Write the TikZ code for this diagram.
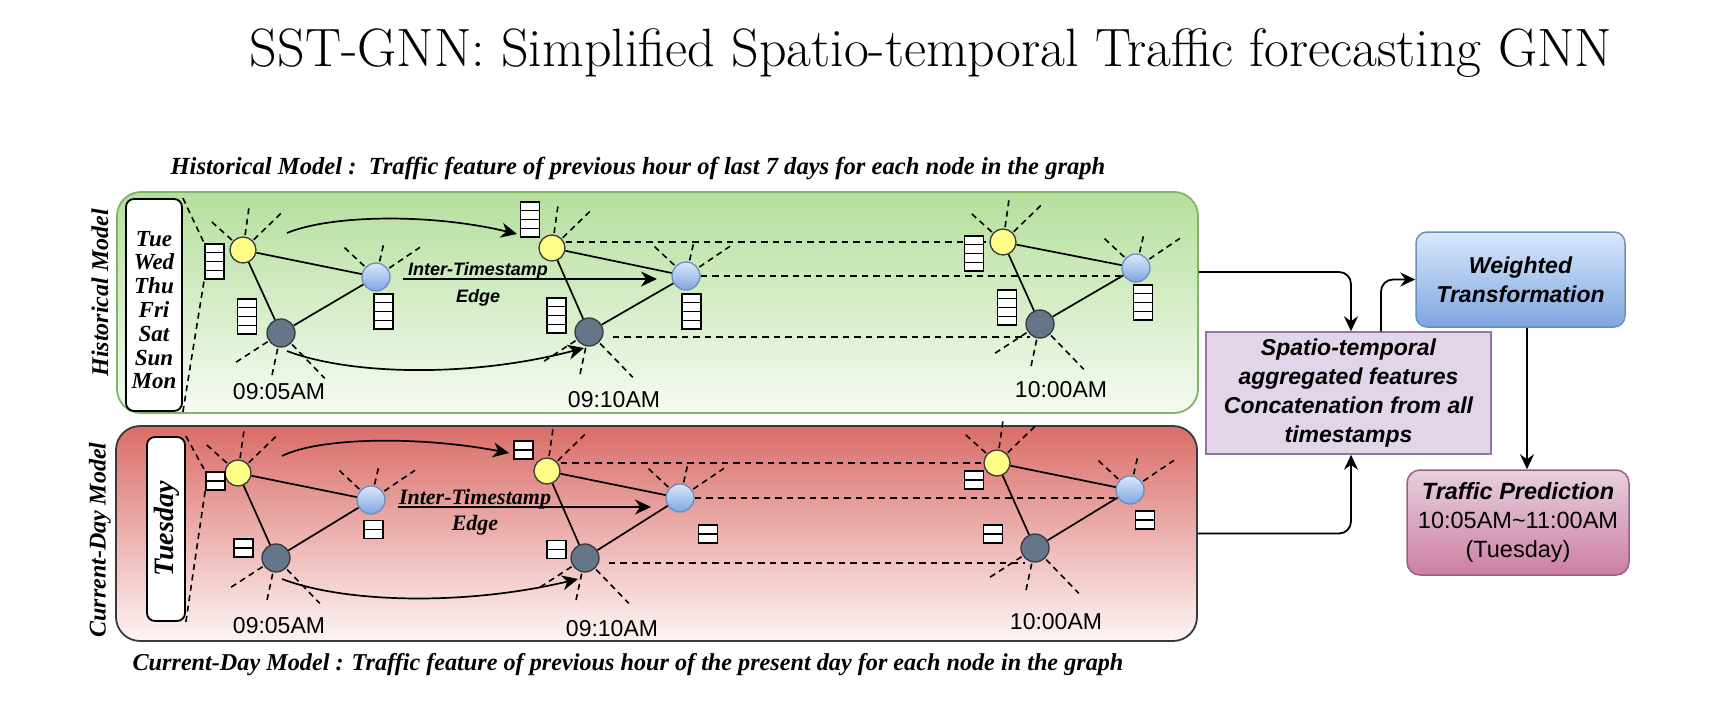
\documentclass[tikz,border=0pt]{standalone}
\usepackage{fontspec}
\newfontfamily\tms{Liberation Serif}
\newfontfamily\arl{Liberation Sans}
\usetikzlibrary{calc,arrows.meta}
\definecolor{grnB}{HTML}{82B366}
\definecolor{grnT}{HTML}{B5DF9C}
\definecolor{grnW}{HTML}{F6FBF3}
\definecolor{redT}{HTML}{DA6D68}
\definecolor{redW}{HTML}{FDF5F5}
\definecolor{dkB}{HTML}{36393D}
\definecolor{ylw}{HTML}{FFFF88}
\definecolor{blT}{HTML}{DAE8FC}
\definecolor{blB}{HTML}{7EA6E0}
\definecolor{blD}{HTML}{6C8EBF}
\definecolor{dkF}{HTML}{647687}
\definecolor{puF}{HTML}{E1D5E7}
\definecolor{puD}{HTML}{9673A6}
\definecolor{pkT}{HTML}{E6D0DE}
\definecolor{pkB}{HTML}{CD7FA2}
\definecolor{pkD}{HTML}{996185}
\tikzset{
 ynode/.style={circle,draw=dkB,line width=1.3pt,fill=ylw,minimum size=26pt,inner sep=0pt},
 bnode/.style={circle,draw=blD,line width=1.3pt,top color=blT,bottom color=blB,minimum size=28pt,inner sep=0pt},
 dnode/.style={circle,draw=dkB,line width=1.3pt,fill=dkF,minimum size=28pt,inner sep=0pt},
 gedge/.style={line width=1.7pt},
 raydash/.style={line width=1.6pt,dash pattern=on 6pt off 4.5pt},
 hdash/.style={line width=1.6pt,dash pattern=on 6.5pt off 5pt},
 arrline/.style={line width=1.7pt,-{Stealth[length=16pt,width=15pt,inset=5pt]}},
 connline/.style={line width=1.8pt,rounded corners=12pt,-{Stealth[length=15pt,width=14pt,inset=5pt]}},
 bufq/.style={draw,fill=white,line width=1.6pt,minimum width=19pt,minimum height=35pt,inner sep=0pt},
 bufd/.style={draw,fill=white,line width=1.6pt,minimum width=19pt,minimum height=18pt,inner sep=0pt},
 timelbl/.style={font=\arl\fontsize{23}{27}\selectfont,inner sep=0pt},
 captxt/.style={font=\tms\bfseries\itshape\fontsize{24.6}{28}\selectfont,inner sep=0pt,anchor=base},
 rottxt/.style={font=\tms\bfseries\itshape\fontsize{24}{28}\selectfont,inner sep=0pt,rotate=90},
 daybox/.style={draw,fill=white,line width=1.8pt,rounded corners=8pt,inner sep=0pt},
 sbitxt/.style={font=\arl\bfseries\itshape\fontsize{23}{29}\selectfont,align=center,inner sep=0pt},
}
\newcommand\bufF[3]{\node[bufq] (#1) at (#2,#3) {};
 \foreach \f in {0.25,0.5,0.75}{\draw[line width=1.6pt] ($(#1.north west)!\f!(#1.south west)$) -- ($(#1.north east)!\f!(#1.south east)$);}}
\newcommand\bufT[3]{\node[bufd] (#1) at (#2,#3) {}; \draw[line width=1.6pt] (#1.west) -- (#1.east);}
\newcommand\raysY[1]{\foreach \a/\rl in {138/42pt,82/43pt,44/54pt}{\draw[raydash] ($(#1)+(\a:15pt)$) -- ($(#1)+(\a:\rl)$);}}
\newcommand\raysYb[1]{\foreach \a/\rl in {82/43pt,44/54pt}{\draw[raydash] ($(#1)+(\a:15pt)$) -- ($(#1)+(\a:\rl)$);}}
\newcommand\raysB[1]{\foreach \a/\rl in {137/43pt,77/33pt,34/53pt}{\draw[raydash] ($(#1)+(\a:16pt)$) -- ($(#1)+(\a:\rl)$);}}
\newcommand\raysD[1]{\foreach \a/\rl in {213/55pt,258/46pt,314/63pt}{\draw[raydash] ($(#1)+(\a:16pt)$) -- ($(#1)+(\a:\rl)$);}}
\begin{document}
\begin{tikzpicture}[x=1pt,y=-1pt]
\useasboundingbox (0,0) rectangle (1710,706);
\fill[white] (0,0) rectangle (1710,706);

% title and captions
\node[font=\fontsize{54}{62}\selectfont,inner sep=0pt,anchor=base] (title) at (931,67) {SST-GNN: Simplified Spatio-temporal Traffic forecasting GNN};
\node[captxt] (caph) at (638,175) {Historical Model :\ \ Traffic feature of previous hour of last 7 days for each node in the graph};
\node[captxt,font=\tms\bfseries\itshape\fontsize{24.2}{28}\selectfont] (capc) at (628,670) {Current-Day Model : Traffic feature of previous hour of the present day for each node in the graph};

% panels
\node[draw=grnB,line width=1.8pt,rounded corners=24pt,top color=grnT,bottom color=grnW,minimum width=1081pt,minimum height=221pt] (hist) at (657.5,302.5) {};
\node[draw=dkB,line width=1.8pt,rounded corners=24pt,top color=redT,bottom color=redW,minimum width=1081pt,minimum height=215pt] (curr) at (656.5,533.5) {};

\node[rottxt] (labh) at (100,293) {Historical Model};
\node[rottxt] (labc) at (100,540) {Current-Day Model};

\node[daybox,minimum width=56pt,minimum height=212pt] (dayh) at (154,305) {};
\node[font=\tms\bfseries\itshape\fontsize{23}{23.8}\selectfont,align=center,inner sep=0pt] (days) at (154,310) {Tue\\Wed\\Thu\\Fri\\Sat\\Sun\\Mon};
\node[daybox,minimum width=38pt,minimum height=184pt] (dayc) at (166,529) {};
\node[font=\tms\bfseries\itshape\fontsize{28}{32}\selectfont,rotate=90,inner sep=0pt] (tues) at (167,529) {Tuesday};

% historical graph nodes
\node[ynode] (Y1) at (243,250) {};
\node[bnode] (B1) at (376,277) {};
\node[dnode] (D1) at (281,333) {};
\node[ynode] (Y2) at (552,248) {};
\node[bnode] (B2) at (686,276) {};
\node[dnode] (D2) at (589,332) {};
\node[ynode] (Y3) at (1003,242) {};
\node[bnode] (B3) at (1136,268) {};
\node[dnode] (D3) at (1040,324) {};
% current-day graph nodes
\node[ynode] (Y1r) at (238,473) {};
\node[bnode] (B1r) at (371,500) {};
\node[dnode] (D1r) at (276,558) {};
\node[ynode] (Y2r) at (547,471) {};
\node[bnode] (B2r) at (680,498) {};
\node[dnode] (D2r) at (585,558) {};
\node[ynode] (Y3r) at (997,463) {};
\node[bnode] (B3r) at (1130,490) {};
\node[dnode] (D3r) at (1035,548) {};

% graph edges
\foreach \g in {1,2,3}{
 \draw[gedge] (Y\g) -- (B\g); \draw[gedge] (Y\g) -- (D\g); \draw[gedge] (D\g) -- (B\g);
 \draw[gedge] (Y\g r) -- (B\g r); \draw[gedge] (Y\g r) -- (D\g r); \draw[gedge] (D\g r) -- (B\g r);
}

% inter-timestamp dashed links
\draw[hdash] (Y2.east |- Y3.west) -- (Y3.west);
\draw[hdash] (B2.east) -- (B2.east -| B3.west);
\draw[hdash] ([xshift=9pt,yshift=-5pt]D2.east) -- ([yshift=-5pt]D2.east -| D3.south west);
\draw[hdash] (Y2r.east |- Y3r.west) -- (Y3r.west);
\draw[hdash] (B2r.east) -- (B2r.east -| B3r.west);
\draw[hdash] ([xshift=9pt,yshift=-5pt]D2r.east) -- ([yshift=-5pt]D2r.east -| D3r.south west);

% rays
\raysY{Y1} \raysB{B1} \raysD{D1}
\raysYb{Y2} \raysB{B2} \raysD{D2}
\raysY{Y3} \raysB{B3} \raysD{D3}
\raysY{Y1r} \raysB{B1r} \raysD{D1r}
\raysYb{Y2r} \raysB{B2r} \raysD{D2r}
\raysY{Y3r} \raysB{B3r} \raysD{D3r}

% curved arrows
\coordinate (a1s) at (287,233); \coordinate (a1e) at (517,234);
\coordinate (a2s) at (287,351); \coordinate (a2e) at (584,348);
\coordinate (a3s) at (282,456); \coordinate (a3e) at (509,453);
\coordinate (a4s) at (282,579); \coordinate (a4e) at (578,579);
\draw[arrline] (a1s) .. controls (330,215) and (430,213) .. (a1e);
\draw[arrline] (a2s) .. controls (350,375) and (470,378) .. (a2e);
\draw[arrline] (a3s) .. controls (320,437) and (420,436) .. (a3e);
\draw[arrline] (a4s) .. controls (345,603) and (465,606) .. (a4e);

% inter-timestamp edge arrows
\coordinate (i1s) at (403,279); \coordinate (i1e) at (657,279);
\coordinate (i2s) at (398,507); \coordinate (i2e) at (651,507);
\draw[arrline] (i1s) -- (i1e);
\draw[arrline] (i2s) -- (i2e);
\node[font=\arl\bfseries\itshape\fontsize{18}{22}\selectfont,inner sep=0pt,anchor=base] (it1) at (478,275) {Inter-Timestamp};
\node[font=\arl\bfseries\itshape\fontsize{18}{22}\selectfont,inner sep=0pt,anchor=base] (ed1) at (478,302) {Edge};
\node[font=\tms\bfseries\itshape\fontsize{22}{26}\selectfont,inner sep=0pt,anchor=base] (it2) at (475,504) {Inter-Timestamp};
\node[font=\tms\bfseries\itshape\fontsize{22}{26}\selectfont,inner sep=0pt,anchor=base] (ed2) at (475,530) {Edge};

% buffers
\bufF{BY1}{214.5}{261.5} \bufF{BD1}{247}{316.5} \bufF{BB1}{383.5}{311.5}
\bufF{BY2}{530}{219.5} \bufF{BD2}{556.5}{315.5} \bufF{BB2}{691.5}{311.5}
\bufF{BY3}{974}{253.5} \bufF{BD3}{1007}{307.5} \bufF{BB3}{1143}{302.5}
\bufT{RY1}{215.5}{481} \bufT{RD1}{243.5}{548} \bufT{RB1}{373.5}{529.5}
\bufT{RY2}{523.5}{450} \bufT{RD2}{556.5}{549.5} \bufT{RB2}{708}{534}
\bufT{RY3}{974}{480} \bufT{RD3}{993}{534} \bufT{RB3}{1145}{520}

% day box projection lines
\draw[raydash] (dayh.north east) -- (BY1.north west);
\draw[raydash] (dayh.south east) -- (BY1.south west);
\draw[raydash] (dayc.north east) -- (RY1.north west);
\draw[raydash] (dayc.south east) -- (RY1.south west);

% time labels
\node[timelbl] (th1) at (279,392) {09:05AM};
\node[timelbl] (th2) at (614,400) {09:10AM};
\node[timelbl] (th3) at (1061,390) {10:00AM};
\node[timelbl] (tc1) at (279,626) {09:05AM};
\node[timelbl] (tc2) at (612,629) {09:10AM};
\node[timelbl] (tc3) at (1056,622) {10:00AM};

% right column
\node[sbitxt,draw=puD,line width=1.5pt,fill=puF,minimum width=285pt,minimum height=122pt] (agg) at (1348.5,393) {Spatio-temporal\\aggregated features\\Concatenation from all\\timestamps};
\node[sbitxt,draw=blD,line width=1.5pt,rounded corners=11pt,top color=blT,bottom color=blB,minimum width=209pt,minimum height=95pt] (wt) at (1520.5,279.5) {Weighted\\Transformation};
\node[font=\arl\fontsize{23.5}{29}\selectfont,align=center,inner sep=0pt,draw=pkD,line width=1.5pt,rounded corners=13pt,top color=pkT,bottom color=pkB,minimum width=222pt,minimum height=105pt] (tp) at (1518,522.5) {\bfseries\itshape Traffic Prediction\\10:05AM\textasciitilde11:00AM\\(Tuesday)};

\draw[connline] ([yshift=30.5pt]hist.east) -| ([xshift=2.5pt]agg.north);
\draw[connline] (curr.east) -| ([xshift=2.5pt]agg.south);
\draw[connline] ([xshift=32.5pt]agg.north) |- (wt.west);
\draw[connline] ([xshift=6.5pt]wt.south) -- ([xshift=6.5pt]wt.south |- tp.north);
\end{tikzpicture}
\end{document}
